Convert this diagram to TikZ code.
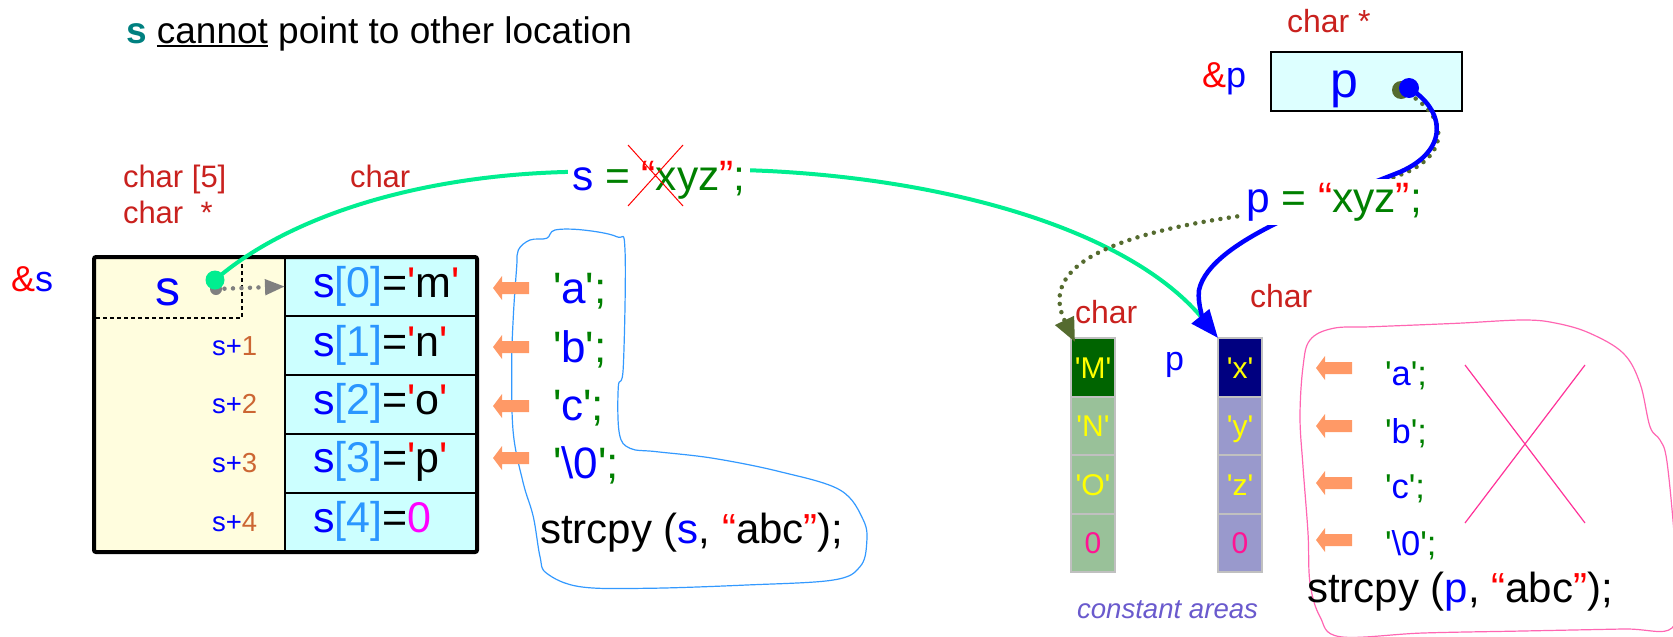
\documentclass[tikz,border=0pt]{standalone}
\usepackage{fontspec}
\setmainfont{Liberation Sans}
\usetikzlibrary{arrows.meta}
\definecolor{cRed}{RGB}{201,33,30}
\definecolor{cBright}{RGB}{255,0,0}
\definecolor{cBlue}{RGB}{0,0,255}
\definecolor{cGreen}{RGB}{0,128,0}
\definecolor{cTeal}{RGB}{0,128,128}
\definecolor{cBrk}{RGB}{42,150,255}
\definecolor{cDig}{RGB}{204,102,51}
\definecolor{cMag}{RGB}{255,0,255}
\definecolor{cYel}{RGB}{255,255,0}
\definecolor{cPinkZ}{RGB}{255,20,147}
\definecolor{cOrA}{RGB}{255,153,102}
\definecolor{cBlob}{RGB}{51,153,255}
\definecolor{cPinkB}{RGB}{255,102,178}
\definecolor{cX}{RGB}{255,51,153}
\definecolor{cSpring}{RGB}{0,238,144}
\definecolor{cOlive}{RGB}{85,107,47}
\definecolor{cGray}{RGB}{128,128,128}
\definecolor{cLY}{RGB}{255,253,222}
\definecolor{cCyan}{RGB}{204,255,255}
\definecolor{cPbox}{RGB}{221,255,255}
\definecolor{cSlate}{RGB}{106,90,205}
\definecolor{cMdark}{RGB}{0,100,0}
\definecolor{cMlight}{RGB}{153,193,153}
\definecolor{cXdark}{RGB}{0,0,128}
\definecolor{cXlight}{RGB}{153,153,204}
\definecolor{cCellB}{RGB}{192,192,192}
\newcommand\fs[1]{\fontsize{#1}{#1}\selectfont}
\newcommand\q{\textquotesingle}
\newcommand\myul[1]{\vtop{\hbox{#1}\kern1.5pt\hrule height 2pt}}
\newcommand\larrow[2]{\fill[cOrA] (#1,#2) -- ++(9,-12) -- ++(0,6) -- ++(27,0) -- ++(0,12) -- ++(-27,0) -- ++(0,6) -- cycle;}
\begin{document}
\begin{tikzpicture}[x=1pt,y=-1pt,
  every node/.style={inner sep=0pt,outer sep=0pt},
  lbl/.style={anchor=base west},
  cellbox/.style={draw,fill=cCyan,line width=2pt,minimum width=192pt,minimum height=59pt,anchor=north west},
  cbox/.style={draw=cCellB,line width=2pt,minimum width=44pt,minimum height=58.5pt,anchor=north west,text=cYel,font=\fs{30},text height=21.5pt,text depth=0pt},
  blob/.style={line width=1.2pt},
  dotline/.style={line width=4.5pt,dash pattern=on 0pt off 8.5pt,line cap=round}]
\useasboundingbox (0,0) rectangle (1673,637);

% title
\node[lbl] (title) at (126,43) {\fs{37}\textbf{\color{cTeal}s} \myul{cannot} point to other location};

% type labels left
\node[lbl,text=cRed,font=\fs{31}] (char5) at (123,187) {char [5]};
\node[lbl,text=cRed,font=\fs{31}] (charst) at (123,223) {char\ \ *};
\node[lbl,text=cRed,font=\fs{31}] (charl) at (350,187) {char};
\node[lbl,font=\fs{36}] (amps) at (11,291) {{\color{cBright}\&}{\color{cBlue}s}};

% array box
\fill[cLY] (94,257) rectangle (285,552);
\foreach \i/\y in {0/257,1/316,2/375,3/434,4/493}{
  \node[cellbox] (c\i) at (285,\y) {};
}
\node[draw,line width=4pt,rounded corners=2pt,minimum width=383pt,minimum height=295pt,anchor=north west] (arr) at (94,257) {};
\draw[line width=2pt,dash pattern=on 4pt off 3pt] (96,318) -- (242,318) -- (242,259);
\node[lbl,text=cBlue,font=\fs{50}] (sbig) at (155,305) {s};

\foreach \n/\y in {1/355,2/413,3/472,4/531}{
  \node[lbl,font=\fs{27.5}] (sp\n) at (212,\y) {{\color{cBlue}s+}{\color{cDig}\n}};
}
\foreach \n/\ch/\y in {0/m/297,1/n/356,2/o/414,3/p/472}{
  \node[lbl,font=\fs{43}] (ct\n) at (313,\y) {{\color{cBlue}s}{\color{cBrk}[\n]}={\color{cBright}\q}\ch{\color{cBright}\q}};
}
\node[lbl,font=\fs{43}] (ct4) at (313,532) {{\color{cBlue}s}{\color{cBrk}[4]}={\color{cMag}0}};

% blue blob
\draw[cBlob,blob] plot[smooth cycle,tension=0.6] coordinates {(546.7,238.3) (555,230) (583.3,230) (616.7,236.7) (625,250) (623.3,366.7) (618.3,386.7) (619.3,433.3) (630,448.3) (656.7,451.7) (713.3,458.3) (780,471.7) (840,490) (863.3,520) (866.7,543.3) (860,566.7) (833.3,580) (746.7,585) (646.7,588.3) (580,586.7) (546.7,573.3) (540,556.7) (533.3,516.7) (523.3,483.3) (513.3,433.3) (511.7,366.7) (513.3,316.7) (516.7,266.7) (518.3,250) (530,240)};

% left arrows and chars
\larrow{493}{288}
\larrow{493}{347}
\larrow{493}{406}
\larrow{493}{458}
\foreach \n/\ch/\y in {a/a/303,b/b/362,c/c/420}{
  \node[lbl,font=\fs{44}] (la\n) at (553,\y) {{\color{cGreen}\q}{\color{cBlue}\ch}{\color{cGreen}\q;}};
}
\node[lbl,font=\fs{44}] (laz) at (553,478) {{\color{cGreen}\q}{\color{cBlue}\textbackslash 0}{\color{cGreen}\q;}};
\node[lbl,font=\fs{42}] (strs) at (540,543) {strcpy ({\color{cBlue}s}, {\color{cBright}“}abc{\color{cBright}”});};

% p box
\node[lbl,text=cRed,font=\fs{32}] (charp) at (1287,32) {char *};
\node[lbl,font=\fs{36}] (ampp) at (1202,87) {{\color{cBright}\&}{\color{cBlue}p}};
\node[draw,fill=cPbox,line width=2pt,minimum width=191pt,minimum height=59pt,anchor=north west] (pbox) at (1271,52) {};
\node[lbl,text=cBlue,font=\fs{50}] (pin) at (1330,97) {p};

% constant areas
\node[cbox,fill=cMdark] (m0) at (1071,338) {\q M\q};
\node[cbox,fill=cMlight] (m1) at (1071,396.5) {\q N\q};
\node[cbox,fill=cMlight] (m2) at (1071,455) {\q O\q};
\node[cbox,fill=cMlight,text=cPinkZ] (m3) at (1071,513.5) {0};
\node[cbox,fill=cXdark] (x0) at (1218,338) {\q x\q};
\node[cbox,fill=cXlight] (x1) at (1218,396.5) {\q y\q};
\node[cbox,fill=cXlight] (x2) at (1218,455) {\q z\q};
\node[cbox,fill=cXlight,text=cPinkZ] (x3) at (1218,513.5) {0};
\node[lbl,text=cRed,font=\fs{32}] (charm) at (1075,323) {char};
\node[lbl,text=cRed,font=\fs{32}] (charx) at (1250,307) {char};
\node[lbl,text=cBlue,font=\fs{34}] (pmid) at (1165,370) {p};
\node[lbl,text=cSlate,font=\fs{27.6}\itshape] (const) at (1077,618) {constant areas};

% pink blob
\draw[cPinkB,blob] plot[smooth cycle,tension=0.6] coordinates {(1310,340) (1333.3,328.3) (1373.3,326.7) (1456.7,323.3) (1523.3,320) (1556.7,323.3) (1590,333.3) (1623.3,353.3) (1640,383.3) (1650,426.7) (1660,440) (1666.7,460) (1674,533) (1676,583) (1672,628) (1623,629) (1523,631) (1423,633) (1340,636.7) (1320,616.7) (1310,583) (1308,533) (1303,466.7) (1300,416.7) (1303,366.7)};
\larrow{1316}{368}
\larrow{1316}{426}
\larrow{1316}{483}
\larrow{1316}{540}
\foreach \n/\ch/\y in {a/a/385,b/b/443,c/c/498}{
  \node[lbl,font=\fs{34.5}] (ra\n) at (1385,\y) {{\color{cGreen}\q}{\color{cBlue}\ch}{\color{cGreen}\q;}};
}
\node[lbl,font=\fs{34.5}] (raz) at (1385,555) {{\color{cGreen}\q}{\color{cBlue}\textbackslash 0}{\color{cGreen}\q;}};
\draw[cX,line width=1.2pt] (1465,365) -- (1585,523) (1585,365) -- (1465,523);
\node[lbl,font=\fs{42}] (strp) at (1307,602) {strcpy ({\color{cBlue}p}, {\color{cBright}“}abc{\color{cBright}”});};

% dots (positions)
\node[circle,fill=cGray,minimum size=12pt] (gdot) at (216,289) {};
\node[circle,fill=cOlive,minimum size=18pt] (odot) at (1401,90) {};
\coordinate (mtip) at (1075,342);

% connectors
\draw[cGray,dotline,-{Triangle[length=20pt,width=15pt]}] (gdot.center) -- (c0.west);
\draw[cSpring,line width=4pt,-{Triangle[length=14pt,width=14pt]}] (215,280) .. controls (290,215) and (420,176) .. (565,172) .. controls (650,168) and (700,168) .. (768,171) .. controls (950,180) and (1130,230) .. (1212,330);
\draw[cOlive,dotline,-{Triangle[length=24pt,width=20pt]}] (odot.center) .. controls (1447,112) and (1453,152) .. (1405,173) .. controls (1340,198) and (1300,210) .. (1240,216) .. controls (1100,236) and (1040,270) .. (mtip);
\draw[cBlue,line width=4.5pt,-{Triangle[length=28pt,width=22pt]}] (1409,88) .. controls (1445,110) and (1450,150) .. (1400,172) .. controls (1330,200) and (1210,240) .. (1199,290) .. controls (1197,305) and (1205,322) .. (x0.north west);

% labels over curves
\node[lbl,fill=white,inner sep=4pt,font=\fs{42.5}] (sxyz) at (568,190) {{\color{cBlue}s} {\color{cGreen}=} {\color{cBright}“}{\color{cGreen}xyz}{\color{cBright}”}{\color{cGreen};}\hspace{20pt}};
\draw[cBright,line width=1pt] (628,145) -- (683,206) (683,145) -- (628,206);
\node[lbl,fill=white,inner sep=4pt,font=\fs{42.5}] (pxyz) at (1242,212) {{\color{cBlue}p} {\color{cGreen}=} {\color{cBright}“}{\color{cGreen}xyz}{\color{cBright}”}{\color{cGreen};}};

% dots on top
\node[circle,fill=cSpring,minimum size=19pt] (sdot) at (215,280) {};
\node[circle,fill=cBlue,minimum size=20pt] (pdot) at (1409,88) {};
\end{tikzpicture}
\end{document}
